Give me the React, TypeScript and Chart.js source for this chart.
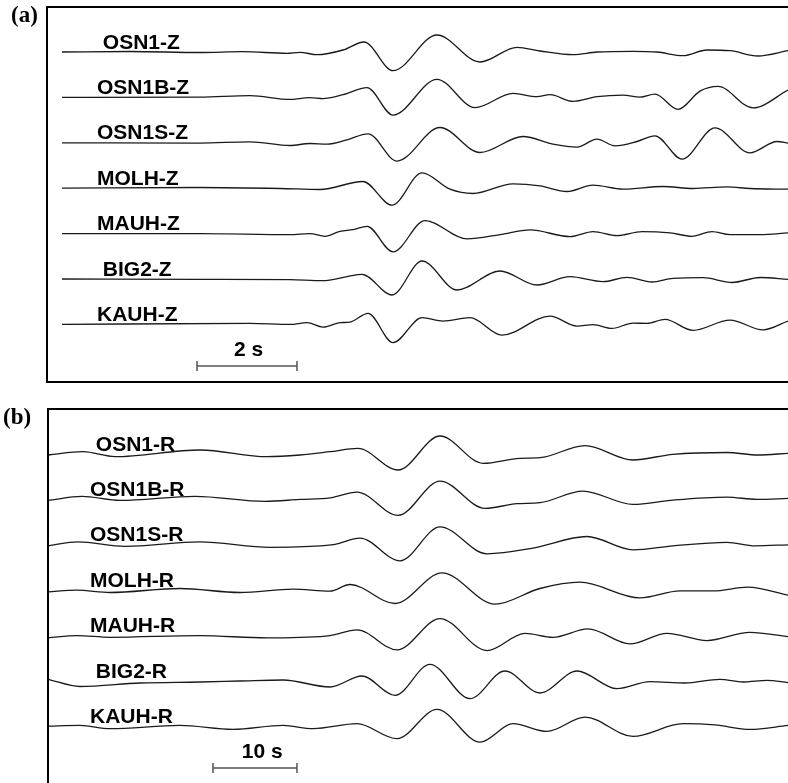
import { useEffect, useRef } from "react";
import { Chart, registerables } from "chart.js";

Chart.register(...registerables);

// Each trace: [time (s), amplitude] picked at turning points; the line is
// drawn through them with monotone cubic interpolation.
type Pt = [number, number];

// ---- (a) vertical components ----
const Z_NAMES = [" OSN1-Z", "OSN1B-Z", "OSN1S-Z", "MOLH-Z", "MAUH-Z", " BIG2-Z", "KAUH-Z"];

const OSN1_Z: Pt[] = [
  [0, 0], [1.36, 0.5], [2.76, -0.5], [3.62, 0.3], [4.5, -1.3], [4.76, -0.3], [5.1, -2.7],
  [5.62, 2], [6.04, 10], [6.62, -18.7], [7.5, 17], [8.36, -10], [9.1, 4.7], [9.56, 1],
  [10.22, -2.7], [10.7, 0], [11.42, 0.7], [11.9, 0], [12.42, -3.7], [12.9, 2], [13.36, 1.3],
  [13.92, -4], [14.52, 1.3],
];
const OSN1B_Z: Pt[] = [
  [0, 0], [2.76, 0.3], [3.76, 1.7], [4.56, -2], [4.96, -0.3], [5.22, -1.3], [5.62, 2.7],
  [6.1, 9.7], [6.62, -17.7], [7.5, 18], [8.26, -10.3], [9.02, 4], [9.5, 0.7], [9.76, 2.7],
  [10.22, -4], [10.7, 0.7], [11.22, 2.3], [11.56, 0.3], [11.86, 3.3], [12.32, -12],
  [12.76, 6.3], [13.12, 11], [13.82, -10.5], [14.52, 7.3],
];
const OSN1S_Z: Pt[] = [
  [0, 0], [2.76, -0.3], [3.76, 1], [4.56, -2.7], [4.96, -0.7], [5.3, -1.3], [5.7, 3],
  [6.12, 9], [6.7, -18.3], [7.56, 15.3], [8.36, -9.7], [9.22, 6.3], [9.82, -1.3], [10.3, -4.3],
  [10.7, 3.7], [11.06, -3], [11.5, 1.3], [11.86, 7], [12.4, -16.3], [13.06, 15], [13.76, -10],
  [14.3, 1.3], [14.52, -0.3],
];
const MOLH_Z: Pt[] = [
  [0, 0], [2.76, 0.7], [4.36, -0.3], [5.16, -1.3], [6.02, 6.7], [6.6, -17], [7.2, 15.3],
  [7.76, -1], [8.22, -5.3], [9.02, 4.3], [9.56, 2.3], [10.1, -3.3], [10.62, 3], [11.22, -1],
  [12.02, 1.7], [12.62, -0.3], [13.3, 1.3], [13.76, -0.3], [14.52, -1],
];
const MAUH_Z: Pt[] = [
  [0, 0], [2.76, 0], [4.56, -1], [4.96, 0], [5.26, -2.7], [5.56, 2.3], [5.82, 4], [6.1, 7.3],
  [6.62, -18.3], [7.26, 13], [8.1, -5.3], [8.76, -1], [9.36, 3.7], [10.16, -3], [10.62, 2],
  [11.1, -2], [11.6, 2], [12.16, 0.7], [12.6, -2.7], [13, 2], [13.36, -1], [13.96, -1],
  [14.52, 0.7],
];
const BIG2_Z: Pt[] = [
  [0, 0], [2.76, -0.3], [4.56, -0.7], [5.22, -1.7], [5.7, 2.3], [6, 4.7], [6.6, -16],
  [7.2, 18], [7.9, -11], [8.76, 8], [9.5, -6], [10.16, 2.3], [10.82, -2.7], [11.3, 1.7],
  [11.8, -3], [12.22, 0.7], [12.82, 1.3], [13.4, -3.5], [13.96, 1.5], [14.52, -0.3],
];
const KAUH_Z: Pt[] = [
  [0, 0], [3.76, 1], [4.56, 0], [4.9, 1.7], [5.22, -2.7], [5.56, 1.7], [5.76, 2.3],
  [6.12, 11], [6.62, -18.3], [7.2, 6.7], [7.62, 3.3], [8.16, 6.7], [8.8, -10.7], [9.76, 8.3],
  [10.3, -1.7], [10.62, -0.3], [11, -4], [11.42, 1.3], [11.7, 1], [12.06, 5], [12.62, -6],
  [13.36, 4.3], [14.02, -5.5], [14.52, 3.3],
];

// ---- (b) radial components ----
const R_NAMES = [" OSN1-R", "OSN1B-R", "OSN1S-R", "MOLH-R", "MAUH-R", " BIG2-R", "KAUH-R"];

const OSN1_R: Pt[] = [
  [0, -1], [4.17, 2.3], [7.98, -2.7], [18.1, 4], [26.07, -2.7], [30, -1], [33.57, 2.3],
  [36.9, 5.7], [41.67, -16], [46.67, 18], [51.79, -9.3], [56.19, -4.3], [58.57, -3.7],
  [63.93, 8.3], [69.64, -6], [74.4, -0.3], [80.83, 1.5], [84.52, -1], [88.1, 0.7],
];
const OSN1B_R: Pt[] = [
  [0, -1], [4.05, 3], [8.57, -1], [17.5, 3], [25.83, -2], [30, 0], [33.57, 1.5], [36.79, 7.3],
  [41.67, -16], [46.67, 18.3], [52.02, -9], [55.83, -4.3], [58.57, -3.3], [63.69, 8.3],
  [69.64, -5], [74.4, -0.7], [80.83, 2.3], [84.4, 0], [88.1, 1],
];
const OSN1S_R: Pt[] = [
  [0, -1], [3.57, 3], [9.17, -1.5], [18.1, 3], [26.43, -2.5], [31.19, -1.5], [34.17, 0.5],
  [37.14, 6.7], [41.9, -16], [46.67, 18], [52.26, -9], [57.74, -3.3], [64.17, 8.3],
  [69.64, -5], [74.4, -1], [80.83, 2.5], [84.17, -1], [88.1, 0],
];
const MOLH_R: Pt[] = [
  [0, -1.7], [3.45, 0], [7.38, -2.3], [15.71, 1.7], [22.86, -2.3], [29.17, 1], [33.57, -1],
  [35.95, 5.7], [41.31, -13.3], [46.9, 17.3], [53.21, -14], [58.57, 1.7], [63.33, 8],
  [70.48, -7.7], [75.24, -0.7], [79.17, -0.7], [83.33, 3], [88.1, -5],
];
const MAUH_R: Pt[] = [
  [0, -2.3], [3.45, 0], [7.38, -1.7], [18.1, 0], [26.07, -2.3], [30, -1.7], [33.57, 0],
  [36.79, 5.7], [41.55, -14.3], [46.67, 17], [52.26, -15], [56.79, 2.3], [60.12, -1.7],
  [64.29, 6.7], [69.29, -8.3], [73.69, 2.3], [78.45, -5], [83.57, 3.3], [88.1, -1],
];
const BIG2_R: Pt[] = [
  [0, 1.7], [3.81, -5.5], [10.95, -2], [18.1, -1], [22.86, 0], [27.98, 1], [33.57, -6],
  [37.38, 5], [41.31, -14.3], [45.48, 16.7], [50.24, -17.7], [54.4, 10], [58.57, -12],
  [62.98, 10], [67.74, -7.7], [71.67, -0.7], [75.83, -2], [80, 1.7], [82.74, -1],
  [85.6, 0.7], [88.1, -1.7],
];
const KAUH_R: Pt[] = [
  [0, 0.3], [3.81, 1], [7.38, -2.3], [15.71, 1], [22.02, -3], [27.98, 1], [31.55, -2.3],
  [36.79, 2.7], [41.55, -12.3], [46.31, 17], [51.43, -15.7], [55.36, 2.7], [59.4, -5],
  [63.93, 9.3], [69.64, -10], [75.6, 2.7], [79.4, 1.5], [83.57, -3], [88.1, 1],
];

// Vertical separation between neighbouring traces, in amplitude units.
const TRACE_GAP = 45.4;

interface PanelSpec {
  tag: string;
  tagX: number;
  names: string[];
  traces: Pt[][];
  xMin: number;
  xMax: number;
  yMin: number;
  yMax: number;
  labelTime: number;
  barStart: number;
  barLength: number;
  barText: string;
  barTextTime: number;
  height: number;
  padding: { left: number; top: number; right: number; bottom: number };
  boxBottom: boolean;
}

const PANEL_A: PanelSpec = {
  tag: "(a)",
  tagX: 11,
  names: Z_NAMES,
  traces: [OSN1_Z, OSN1B_Z, OSN1S_Z, MOLH_Z, MAUH_Z, BIG2_Z, KAUH_Z],
  xMin: -0.3,
  xMax: 14.52,
  yMin: -330,
  yMax: 45,
  labelTime: 0.7,
  barStart: 2.7,
  barLength: 2,
  barText: "2 s",
  barTextTime: 3.73,
  height: 395,
  padding: { left: 47, top: 7, right: 0, bottom: 13 },
  boxBottom: true,
};

const PANEL_B: PanelSpec = {
  tag: "(b)",
  tagX: 3,
  names: R_NAMES,
  traces: [OSN1_R, OSN1B_R, OSN1S_R, MOLH_R, MAUH_R, BIG2_R, KAUH_R],
  xMin: 0,
  xMax: 88.1,
  yMin: -329,
  yMax: 45,
  labelTime: 5.0,
  barStart: 19.64,
  barLength: 10,
  barText: "10 s",
  barTextTime: 25.5,
  height: 388,
  padding: { left: 48, top: 14, right: 0, bottom: 0 },
  boxBottom: false,
};

const LABEL_FONT = 'bold 21px "Liberation Sans", Arial, Helvetica, sans-serif';
const TAG_FONT = 'bold 23px "Liberation Serif", "Times New Roman", serif';

function decorations(spec: PanelSpec) {
  return {
    id: "seisDecor" + spec.tag,
    afterDraw(chart: any) {
      const { ctx, chartArea, scales } = chart;
      const xs = scales.x;
      const ys = scales.y;
      ctx.save();

      // frame
      ctx.strokeStyle = "#000";
      ctx.lineWidth = 2;
      ctx.beginPath();
      ctx.moveTo(chart.width + 2, chartArea.top);
      ctx.lineTo(chartArea.left, chartArea.top);
      ctx.lineTo(chartArea.left, spec.boxBottom ? chartArea.bottom : chart.height + 2);
      if (spec.boxBottom) ctx.lineTo(chart.width + 2, chartArea.bottom);
      ctx.stroke();

      // station names above each trace
      ctx.fillStyle = "#000";
      ctx.font = LABEL_FONT;
      ctx.textAlign = "left";
      ctx.textBaseline = "alphabetic";
      spec.names.forEach((name, k) => {
        const px = xs.getPixelForValue(spec.labelTime);
        const py = ys.getPixelForValue(-k * TRACE_GAP) - 3.5;
        ctx.fillText(name, px, py);
      });

      // time scale bar
      const barY = ys.getPixelForValue(-314);
      const x0 = xs.getPixelForValue(spec.barStart);
      const x1 = xs.getPixelForValue(spec.barStart + spec.barLength);
      ctx.strokeStyle = "#555";
      ctx.lineWidth = 1.5;
      ctx.beginPath();
      ctx.moveTo(x0, barY);
      ctx.lineTo(x1, barY);
      ctx.moveTo(x0, barY - 5);
      ctx.lineTo(x0, barY + 5);
      ctx.moveTo(x1, barY - 5);
      ctx.lineTo(x1, barY + 5);
      ctx.stroke();
      ctx.fillStyle = "#000";
      ctx.textAlign = "center";
      ctx.textBaseline = "middle";
      ctx.fillText(spec.barText, xs.getPixelForValue(spec.barTextTime), ys.getPixelForValue(-298));

      // panel tag
      ctx.font = TAG_FONT;
      ctx.textAlign = "left";
      ctx.fillText(spec.tag, spec.tagX, chartArea.top + 9);
      ctx.restore();
    },
  };
}

function Panel({ spec, top }: { spec: PanelSpec; top: number }) {
  const ref = useRef<HTMLCanvasElement | null>(null);
  useEffect(() => {
    if (!ref.current) return;
    const chart = new Chart(ref.current, {
      type: "line",
      data: {
        datasets: spec.traces.map((tr, k) => ({
          label: spec.names[k].trim(),
          data: tr.map(([t, a]) => ({ x: t, y: -k * TRACE_GAP + a })),
          borderColor: "#1a1a1a",
          borderWidth: 1.3,
          pointRadius: 0,
          fill: false,
          cubicInterpolationMode: "monotone" as const,
        })),
      },
      options: {
        animation: false,
        responsive: false,
        events: [],
        layout: { padding: spec.padding },
        plugins: { legend: { display: false }, tooltip: { enabled: false } },
        scales: {
          x: { type: "linear", display: false, min: spec.xMin, max: spec.xMax },
          y: { type: "linear", display: false, min: spec.yMin, max: spec.yMax },
        },
      },
      plugins: [decorations(spec)],
    });
    return () => chart.destroy();
  }, [spec]);
  return (
    <canvas
      ref={ref}
      width={788}
      height={spec.height}
      style={{ position: "absolute", left: 0, top, width: 788, height: spec.height }}
    />
  );
}

export default function App() {
  return (
    <div style={{ position: "absolute", left: 0, top: 0, width: 788, height: 783, background: "#fff", overflow: "hidden" }}>
      <Panel spec={PANEL_A} top={0} />
      <Panel spec={PANEL_B} top={395} />
    </div>
  );
}
